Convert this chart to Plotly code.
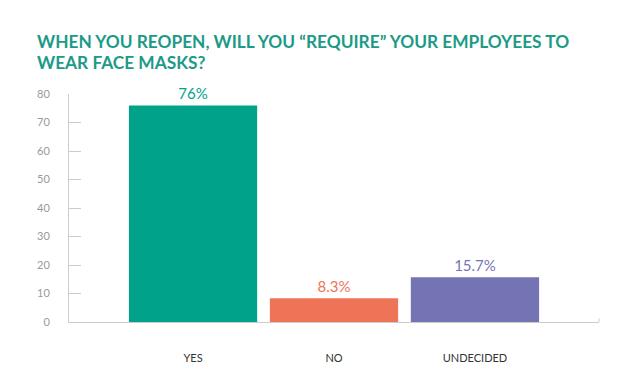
import plotly.graph_objects as go

categories = ["YES", "NO", "UNDECIDED"]
values = [76, 8.3, 15.7]
labels = ["76%", "8.3%", "15.7%"]
colors = ["#00a38a", "#ef7457", "#7474b4"]
y_ticks = [0, 10, 20, 30, 40, 50, 60, 70, 80]
title_lines = ["WHEN YOU REOPEN, WILL YOU “REQUIRE” YOUR EMPLOYEES TO", "WEAR FACE MASKS?"]

FONT = "Lato"
# page body has an 8px default margin; size the figure to fit the window
OFF = 8
W, H = 640 - OFF, 391 - OFF
PL, PR, PT, PB = 69, 599, 94, 322  # plot area in window pixels

fig = go.Figure(
    go.Bar(
        x=categories,
        y=values,
        text=labels,
        textposition="outside",
        textfont=dict(color=colors, size=15, family=FONT),
        marker=dict(color=colors, line=dict(width=0)),
        cliponaxis=False,
        width=0.91,
    )
)

fig.update_layout(
    width=W,
    height=H,
    paper_bgcolor="white",
    plot_bgcolor="white",
    margin=dict(l=PL - OFF, r=640 - PR, t=PT - OFF, b=391 - PB),
    showlegend=False,
    font=dict(family=FONT),
)

for i, (line, py) in enumerate(zip(title_lines, [42, 62])):
    fig.add_annotation(
        text=line,
        xref="paper", yref="paper",
        x=(35 - PL) / (PR - PL),
        y=(PB - py) / (PB - PT),
        xanchor="left", yanchor="middle",
        showarrow=False,
        font=dict(family=FONT, size=17.3, color="#1d9a87", weight="bold"),
    )

fig.update_yaxes(
    range=[0, 80],
    tickvals=y_ticks,
    showgrid=False,
    zeroline=False,
    showline=True,
    linecolor="#cccccc",
    linewidth=1,
    ticks="inside",
    ticklen=12,
    tickcolor="#cccccc",
    tickfont=dict(size=11, color="#999999", family=FONT),
    ticklabelstandoff=16,
)

fig.update_xaxes(
    range=[-0.88, 2.88],
    showgrid=False,
    zeroline=False,
    showline=True,
    linecolor="#cccccc",
    linewidth=1,
    ticks="",
    tickfont=dict(size=11, color="#333333", family=FONT),
    ticklabelstandoff=26,
)

# small end tick at the right of x axis
fig.add_shape(
    type="line", xref="paper", yref="paper",
    x0=1, x1=1, y0=0, y1=0.015,
    line=dict(color="#cccccc", width=1),
)

fig.write_html("out.html")
